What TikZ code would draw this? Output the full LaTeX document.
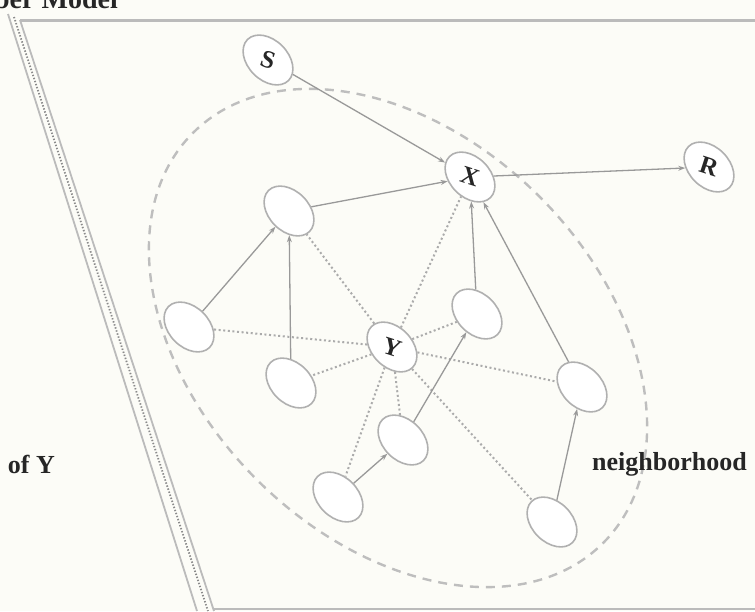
\documentclass[tikz,border=0pt]{standalone}
\usepackage{fontspec}
\usepackage{graphicx}
\setmainfont{Liberation Serif}
\usetikzlibrary{shapes.geometric,arrows.meta}

\definecolor{paper}{HTML}{FCFCF7}
\definecolor{ink}{HTML}{262626}
\definecolor{nodeline}{HTML}{B0B0B0}
\definecolor{edgeline}{HTML}{999999}
\definecolor{dotline}{HTML}{ABABAB}
\definecolor{blanketline}{HTML}{BEBEBE}
\definecolor{frameline}{HTML}{BBBBBB}
\definecolor{framedots}{HTML}{8A8A8A}

% labels are tilted less than their ellipses
\newcommand{\varlabel}[1]{\rotatebox{27}{#1}}

\begin{document}
\begin{tikzpicture}[x=1pt, y=-1pt,
  var/.style={ellipse, draw=nodeline, line width=1.6pt, fill=white,
    minimum width=58pt, minimum height=40pt, inner sep=0pt, rotate=-45,
    text=ink, font=\bfseries\fontsize{25}{25}\selectfont},
  cause/.style={draw=edgeline, line width=1.3pt,
    -{Stealth[length=7pt,width=5pt]}},
  link/.style={draw=dotline, line width=2pt, dash pattern=on 2pt off 2.6pt},
  blanket/.style={ellipse, draw=blanketline, line width=2.4pt,
    dash pattern=on 9pt off 7pt, minimum width=580pt, minimum height=400pt,
    inner sep=0pt, rotate=-45},
  caption/.style={text=ink, font=\bfseries\fontsize{26}{26}\selectfont},
]
\useasboundingbox (0,0) rectangle (755,611);
\fill[paper] (0,0) rectangle (755,611);
\clip (0,0) rectangle (755,611);

% cut-off heading and side labels
\node[caption, font=\bfseries\fontsize{28}{28}\selectfont, anchor=base east, inner sep=0pt]
  (heading) at (118,8) {ber Model};
\node[caption, anchor=base east, inner sep=0pt] (ofy) at (55,473) {of Y};

% frame of the panel
\draw[frameline, line width=3pt] (20,20) -- (755,20);
\draw[frameline, line width=2pt] (213,609) -- (755,609);
\draw[frameline, line width=1.8pt] (8,14) -- (197,611);
\draw[framedots, line width=1.8pt, dash pattern=on 1.4pt off 1.8pt] (14,17) -- (208,611);
\draw[frameline, line width=1.8pt] (20,20) -- (214,611);

% Markov blanket region
\node[blanket] (region) at (398,338) {};
\node[caption, anchor=base west, inner sep=0pt] (nbh) at (592,470) {neighborhood};

% variables
\node[var] (S) at (268,60) {\varlabel{S}};
\node[var] (X) at (470,177) {\varlabel{X}};
\node[var] (R) at (709,167) {\varlabel{R}};
\node[var] (A) at (289,211) {};
\node[var] (B) at (189,327) {};
\node[var] (C) at (291,383) {};
\node[var] (Y) at (392,347) {\varlabel{Y}};
\node[var] (D) at (477,314) {};
\node[var] (E) at (582,387) {};
\node[var] (F) at (403,440) {};
\node[var] (G) at (338,497) {};
\node[var] (H) at (552,522) {};

% undirected links of Y
\foreach \n in {A,X,B,C,D,E,F,G,H}
  \draw[link] (Y) -- (\n);

% directed dependencies
\draw[cause] (S) -- (X);
\draw[cause] (X) -- (R);
\draw[cause] (A) -- (X);
\draw[cause] (B) -- (A);
\draw[cause] (C) -- (A);
\draw[cause] (D) -- (X);
\draw[cause] (E) -- (X);
\draw[cause] (F) -- (D);
\draw[cause] (G) -- (F);
\draw[cause] (H) -- (E);
\end{tikzpicture}
\end{document}
